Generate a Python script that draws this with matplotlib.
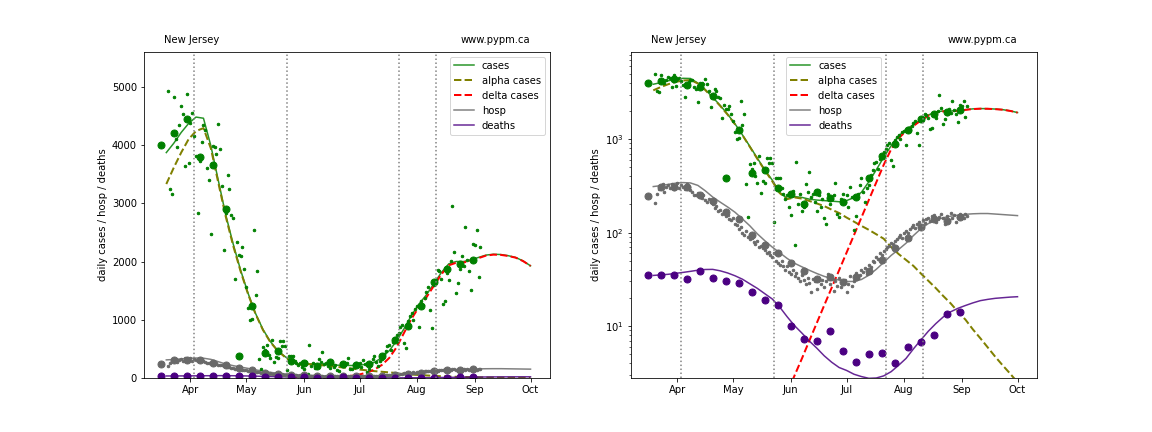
import numpy as np
import pandas as pd
import matplotlib
matplotlib.use("Agg")
import matplotlib.pyplot as plt
import matplotlib.dates as mdates

region = "New Jersey"
site = "www.pypm.ca"

# weekly averages (plotted at the start of each week)
week_start = "2021-03-16"
cases_weekly = [4000, 4200, 4450, 3800, 3660, 2900, 380, 1240, 430, 470, 300, 260, 200,
                275, 235, 215, 240, 385, 660, 890, 1240, 1650, 1880, 1960, 2030]
hosp_weekly = [245, 306, 310, 306, 253, 218, 168, 140, 94, 74, 60, 47, 39,
               31.6, 33.7, 29.5, 33.7, 39, 51, 69, 87, 116, 139, 133, 146]
deaths_weekly = [35, 35.1, 35, 31.6, 38.7, 32.4, 30.5, 28.6, 22.9, 19, 16.6, 10.1, 7.2,
                 6.9, 8.75, 5.4, 4.1, 4.97, 5.2, 4.04, 6.0, 6.7, 8.1, 13.3, 14.0]

# daily reports
day_start = "2021-03-20"
cases_daily = [
    4930, 3250, 3160, 4820, 4100, 3960, 4350,
    4670, 4530, 3640, 4880, 3690, 4380, 4545,
    4150, 3810, 2830, 3730, 4050, 4345, 4260,
    3600, 3400, 2470, 3990, 3960, 3850, 4356,
    3930, 3300, 2190, 2840, 3480, 3250, 2800,
    2750, 1700, 2330, 2115, 2100, 2250, 1870,
    1570, 1200, 1000, 1020, 2540, 1420, 1840,
    330, 148, 540, 475, 560, 400, 343,
    657, 268, 360, 337, 635, 554, 635,
    553, 130, 382, 382, 382, 300, 260,
    230, 250, 190, 154, 280, 74, 566,
    200, 260, 170, 190, 332, 271, 443,
    240, 260, 210, 170, 250, 190, 230,
    142, 123, 260, 200, 230, 250, 337,
    160, 146, 230, 260, 210, 250, 187,
    311, 240, 107, 150, 257, 324, 383,
    270, 214, 300, 324, 414, 469, 553,
    571, 480, 620, 679, 736, 780, 869,
    914, 600, 514, 980, 1057, 1114, 1000,
    1183, 1230, 874, 1314, 1250, 1371, 1474,
    1571, 1171, 857, 1600, 1686, 1857, 1830,
    1700, 1274, 1314, 1800, 1686, 2017, 2950,
    2155, 1457, 1628, 1868, 2097, 1925, 2590,
    2028, 1845, 1514, 2300, 2287, 2544, 1731,
    2246]
hosp_daily = [
    206, 260, 290, 305, 330, 270, 310,
    320, 300, 335, 290, 315, 340, 300,
    325, 310, 295, 330, 305, 285, 270,
    255, 250, 265, 240, 235, 250, 225,
    215, 230, 210, 200, 185, 195, 170,
    175, 160, 165, 150, 155, 140, 135,
    145, 125, 120, 110, 115, 100, 95,
    105, 90, 85, 88, 80, 75, 82,
    70, 72, 68, 65, 60, 62, 58,
    55, 60, 50, 47, 45, 50, 44,
    40, 44, 38, 36, 40, 34, 37,
    33, 30, 35, 31, 28, 33, 29,
    23, 32, 30, 25, 33, 28, 31,
    26, 30, 36, 28, 32, 24, 30,
    27, 33, 26, 29, 31, 23, 28,
    34, 27, 30, 37, 33, 35, 40,
    38, 42, 36, 45, 43, 50, 48,
    55, 52, 60, 58, 63, 66, 70,
    72, 78, 75, 82, 86, 90, 95,
    88, 100, 105, 98, 110, 115, 120,
    112, 125, 130, 118, 135, 128, 140,
    145, 132, 150, 155, 130, 140, 148,
    160, 142, 125, 150, 138, 162, 145,
    155, 130, 148, 158, 150, 142, 160,
    152]

# model curves, one value every 4 days
model_start = "2021-03-19"
model_step = "4D"
model_cases = [3870, 4030, 4215, 4370, 4480, 4460, 3985, 3390, 2800, 2300, 1850, 1455, 1110,
               835, 625, 470, 365, 270, 232, 243, 238, 228, 223, 220, 217, 214, 220, 237,
               270, 350, 470, 640, 850, 1080, 1270, 1430, 1620, 1810, 1960, 2000, 2000,
               2030, 2070, 2110, 2125, 2120, 2100, 2070, 2010, 1926]
model_alpha = [3330, 3610, 3870, 4100, 4240, 4290, 3940, 3350, 2770, 2270, 1830, 1440, 1100,
               825, 615, 465, 355, 265, 228, 238, 231, 218, 205, 192, 176, 162, 145, 131,
               118, 107, 96, 86, 70, 59, 51, 44, 36.5, 30.5, 25.5, 21, 17.5, 14.2, 11.7,
               9.2, 7.4, 5.9, 4.7, 3.8, 3.1, 2.5]
model_delta = [None] * 17 + [1.24, 1.9, 2.95, 4.5, 7.0, 10.8, 16.7, 25.7, 39.6, 61, 94, 145,
                             224, 345, 532, 780, 1020, 1220, 1386, 1584, 1780, 1935, 1979,
                             1983, 2016, 2058, 2101, 2118, 2114, 2095, 2066, 2007, 1924]
model_hosp = [311, 318, 328, 338, 343, 340, 320, 280, 240, 212, 188, 165, 140, 118, 97, 82,
              70, 61, 53, 47, 43, 39.5, 36.5, 34, 32.3, 31, 30, 30, 31.5, 35, 40.5, 48, 57,
              66, 77, 93, 110, 125, 136, 144, 150, 154, 157, 159, 160, 160, 158, 156, 154, 152]
model_deaths = [34.8, 35.3, 35.8, 36.6, 37.5, 38.5, 39.6, 40.3, 40.4, 39, 37, 34.5, 31.7,
                28.3, 25.3, 22.2, 19.5, 16, 12.6, 10.1, 8.4, 6.9, 5.8, 4.8, 4.1, 3.6, 3.35,
                3.05, 2.88, 2.76, 2.78, 2.93, 3.25, 3.8, 4.5, 5.7, 7.1, 8.8, 10.6, 12.5,
                14.2, 15.5, 16.6, 17.7, 18.7, 19.3, 19.8, 20.1, 20.4, 20.6]

# change points in the model
change_dates = ["2021-04-03", "2021-05-23", "2021-07-22", "2021-08-11"]

t_week = pd.date_range(week_start, periods=len(cases_weekly), freq="7D")
t_day = pd.date_range(day_start, periods=len(cases_daily), freq="D")
t_model = pd.date_range(model_start, periods=len(model_cases), freq=model_step)


def draw(ax):
    ax.plot(t_model, model_cases, color="green", lw=1.5, alpha=0.85, label="cases")
    ax.plot(t_model, model_alpha, color="olive", lw=2, ls="--", label="alpha cases")
    ax.plot(t_model, np.array(model_delta, dtype=float), color="red", lw=2, ls="--",
            label="delta cases")
    ax.plot(t_model, model_hosp, color="dimgrey", lw=1.5, alpha=0.85, label="hosp")
    ax.plot(t_model, model_deaths, color="indigo", lw=1.5, alpha=0.85, label="deaths")

    ax.plot(t_day, cases_daily, "o", color="green", ms=2.5)
    ax.plot(t_week, cases_weekly, "o", color="green", ms=7)
    ax.plot(t_day, hosp_daily, "o", color="dimgrey", ms=2.5)
    ax.plot(t_week, hosp_weekly, "o", color="dimgrey", ms=7)
    ax.plot(t_week, deaths_weekly, "o", color="indigo", ms=7)

    for d in change_dates:
        ax.axvline(pd.Timestamp(d), color="grey", ls=":", lw=1.5)

    ax.set_xlim(pd.Timestamp("2021-03-07"), pd.Timestamp("2021-10-11 09:00"))
    ax.xaxis.set_major_locator(mdates.MonthLocator())
    ax.xaxis.set_major_formatter(mdates.DateFormatter("%b"))
    ax.set_ylabel("daily cases / hosp / deaths")
    ax.text(0.05, 1.02, region, transform=ax.transAxes, va="bottom")
    ax.text(0.78, 1.02, site, transform=ax.transAxes, va="bottom")


fig, (ax1, ax2) = plt.subplots(1, 2, figsize=(16, 6), dpi=72)
fig.subplots_adjust(left=0.125, right=0.9, bottom=0.125, top=0.88, wspace=0.2)

draw(ax1)
ax1.set_ylim(0, 5600)
ax1.legend(loc="upper right")

draw(ax2)
ax2.set_yscale("log")
ax2.set_ylim(2.78, 8600)
ax2.legend(loc="upper center")

fig.savefig("out.png", dpi=72)
